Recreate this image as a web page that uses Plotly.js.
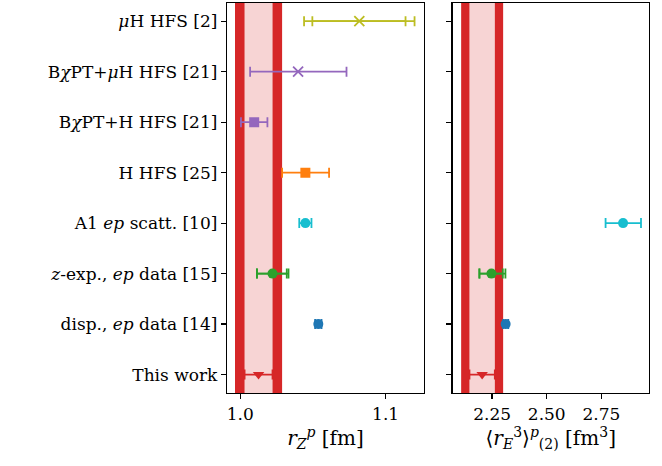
<!DOCTYPE html>
<html><head><meta charset="utf-8">
<script src="https://cdn.plot.ly/plotly-3.0.1.min.js"></script>
<style>html,body{margin:0;padding:0;background:#fff}#chart{width:662px;height:466px}</style>
</head><body><div id="chart"></div>
<script>
// ---- data ----
const labels = ["This work", "disp., <i>ep</i> data [14]", "<i>z</i>-exp., <i>ep</i> data [15]", "A1 <i>ep</i> scatt. [10]", "H HFS [25]", "B<i>χ</i>PT+H HFS [21]", "B<i>χ</i>PT+<i>μ</i>H HFS [21]", "<i>μ</i>H HFS [2]"];
const rows = [0, 1, 2, 3, 4, 5, 6, 7];
const colors = ["#d62728", "#1f77b4", "#2ca02c", "#17becf", "#ff7f0e", "#9467bd", "#9467bd", "#bcbd22"];
const symbols = ["triangle-down", "circle", "circle", "circle", "square", "square", "x-thin-open", "x-thin-open"];

// Zemach radius r_Z [fm]
const rZ        = [1.0126, 1.0537, 1.0222, 1.0448, 1.0448, 1.0096, 1.0398, 1.0819];
const rZErrP    = [0.0096, 0.0022, 0.0110, 0.0042, 0.0163, 0.0091, 0.0333, 0.0380];
const rZErrM    = [0.0096, 0.0022, 0.0107, 0.0042, 0.0160, 0.0091, 0.0330, 0.0380];
const rZErr2P   = [null, null, 0.0098, null, null, null, null, 0.0318];
const rZErr2M   = [null, null, 0.0107, null, null, null, null, 0.0323];
const rZTotErr  = 0.0162;   // this work, total uncertainty (band edge)

// third Zemach moment <r_E^3>_(2) [fm^3]
const r3        = [2.2045, 2.3120, 2.2470, 2.8490, null, null, null, null];
const r3ErrP    = [0.0580, 0.0120, 0.0640, 0.0820, null, null, null, null];
const r3ErrM    = [0.0580, 0.0120, 0.0550, 0.0800, null, null, null, null];
const r3Err2P   = [null, null, 0.0520, null, null, null, null, null];
const r3Err2M   = [null, null, 0.0550, null, null, null, null, null];
const r3TotErr  = 0.0960;

const xTicksL = [1.0, 1.1];
const xTickTextL = ["1.0", "1.1"];
const xTicksR = [2.25, 2.50, 2.75];
const xTickTextR = ["2.25", "2.50", "2.75"];

// ---- traces ----
const traces = [];
function addPanel(vals, eP, eM, e2P, e2M, xa, ya) {
  rows.forEach((r, i) => {
    if (vals[i] === null) return;
    if (e2P[i] !== null) {
      traces.push({x: [vals[i]], y: [r], xaxis: xa, yaxis: ya, type: "scatter", mode: "markers",
        marker: {size: 1, color: "rgba(0,0,0,0)"},
        error_x: {type: "data", symmetric: false, array: [e2P[i]], arrayminus: [e2M[i]], color: colors[i], thickness: 1.8, width: 5},
        showlegend: false, hoverinfo: "skip"});
    }
    const isX = symbols[i].indexOf("x") === 0;
    traces.push({x: [vals[i]], y: [r], xaxis: xa, yaxis: ya, type: "scatter", mode: "markers",
      marker: {symbol: symbols[i], size: 10, color: colors[i], line: {color: colors[i], width: isX ? 1.8 : 0}},
      error_x: {type: "data", symmetric: false, array: [eP[i]], arrayminus: [eM[i]], color: colors[i], thickness: 1.8, width: 5},
      showlegend: false});
  });
}
addPanel(rZ, rZErrP, rZErrM, rZErr2P, rZErr2M, "x", "y");
addPanel(r3, r3ErrP, r3ErrM, r3Err2P, r3Err2M, "x2", "y2");

// ---- bands from this-work value ----
function band(xref, yref, v, stat, tot) {
  return [
    {type: "rect", xref: xref, yref: yref + " domain", x0: v - stat, x1: v + stat, y0: 0, y1: 1, fillcolor: "rgba(214,39,40,0.2)", line: {width: 0}, layer: "below"},
    {type: "rect", xref: xref, yref: yref + " domain", x0: v - tot, x1: v - stat, y0: 0, y1: 1, fillcolor: "#d62728", line: {width: 0}, layer: "below"},
    {type: "rect", xref: xref, yref: yref + " domain", x0: v + stat, x1: v + tot, y0: 0, y1: 1, fillcolor: "#d62728", line: {width: 0}, layer: "below"}
  ];
}
const shapes = band("x", "y", rZ[0], rZErrP[0], rZTotErr).concat(band("x2", "y2", r3[0], r3ErrP[0], r3TotErr));

const font = {family: "DejaVu Serif, Liberation Serif, serif", size: 17, color: "#000"};
const axBase = {showline: true, linecolor: "#000", linewidth: 1.2, mirror: true, ticks: "outside", ticklen: 5, tickwidth: 1.2, tickcolor: "#000", showgrid: false, zeroline: false};
const layout = {
  width: 662, height: 466,
  margin: {l: 227, r: 13, t: 3, b: 73},
  paper_bgcolor: "#fff", plot_bgcolor: "#fff",
  font: font,
  showlegend: false,
  xaxis: Object.assign({}, axBase, {domain: [0, 0.4665], range: [0.9909, 1.1263], tickvals: xTicksL, ticktext: xTickTextL,
    title: {text: "<i>r</i><sub><i>Z</i></sub><sup><i>p</i></sup> [fm]", standoff: 8}}),
  yaxis: Object.assign({}, axBase, {range: [-0.365, 7.36], tickvals: rows, ticktext: labels}),
  xaxis2: Object.assign({}, axBase, {domain: [0.5344, 1], range: [2.069, 2.9676], tickvals: xTicksR, ticktext: xTickTextR,
    title: {text: "⟨<i>r</i><sub><i>E</i></sub><sup>3</sup>⟩<sup><i>p</i></sup><sub>(2)</sub> [fm<sup>3</sup>]", standoff: 8}}),
  yaxis2: Object.assign({}, axBase, {anchor: "x2", range: [-0.365, 7.36], tickvals: rows, showticklabels: false}),
  shapes: shapes
};
Plotly.newPlot("chart", traces, layout, {displayModeBar: false, staticPlot: true});
</script>
</body></html>
